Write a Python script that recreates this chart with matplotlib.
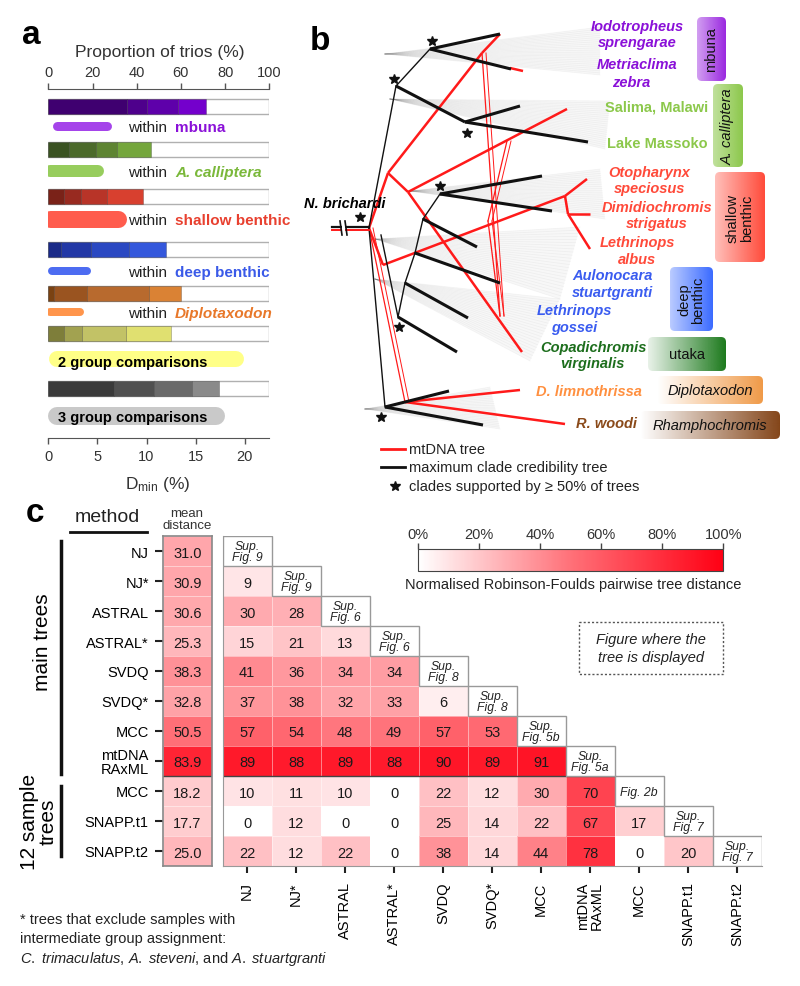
import numpy as np
import matplotlib
matplotlib.use("Agg")
import matplotlib.pyplot as plt
from matplotlib.colors import LinearSegmentedColormap, Normalize, to_rgb
from matplotlib.patches import Rectangle, FancyBboxPatch, Polygon
from matplotlib.cm import ScalarMappable

plt.rcParams["font.family"] = ["Liberation Sans", "DejaVu Sans"]
plt.rcParams["mathtext.fontset"] = "custom"
plt.rcParams["mathtext.rm"] = "Liberation Sans"
plt.rcParams["mathtext.it"] = "Liberation Sans:italic"
plt.rcParams["mathtext.bf"] = "Liberation Sans:bold"

W, H = 800, 987

# --- panel a data -----------------------------------------------------------
groups = ["mbuna", "A. calliptera", "shallow benthic", "deep benthic",
          "Diplotaxodon", "2 group comparisons", "3 group comparisons"]
# cumulative proportion of trios (%) at each shade boundary
trio_cum = [
    [35.5, 44.5, 58.8, 71.4],
    [9.5, 21.6, 31.2, 46.3],
    [7.2, 14.8, 26.7, 43.0],
    [5.6, 19.2, 36.7, 53.3],
    [2.6, 17.4, 45.6, 59.9],
    [7.1, 15.1, 35.0, 55.4],
    [29.9, 47.8, 64.9, 77.4],
]
# range of Dmin (%) covered by each cloud of trios
dmin_lo = [0.9, 0.2, 0.2, 0.4, 0.2, 0.9, 0.9]
dmin_hi = [6.0, 5.1, 7.1, 3.9, 3.2, 19.1, 17.1]

seg_colors = [
    ["#3f0070", "#4e008c", "#5e00aa", "#7400cc"],
    ["#3a5222", "#4c6a2a", "#5e8432", "#74a63c"],
    ["#7a2218", "#982a20", "#b83428", "#d8402f"],
    ["#1a2a88", "#2238a6", "#2a48c2", "#3458dc"],
    ["#7a4212", "#9a5420", "#b86a2e", "#da8234"],
    ["#7e7e3a", "#a2a250", "#c2c266", "#e0e070"],
    ["#3a3a3a", "#505050", "#6a6a6a", "#8a8a8a"],
]
cloud_colors = ["#9b30e8", "#8cc84b", "#ff4a3a", "#3a5cf0", "#ff8a38", "#ffff7a", "#c4c4c4"]
name_colors = ["#8a10d8", "#7ab83a", "#e8402f", "#3a5ae8", "#e8782a"]

# --- panel c data -----------------------------------------------------------
methods = ["NJ", "NJ*", "ASTRAL", "ASTRAL*", "SVDQ", "SVDQ*", "MCC",
           "mtDNA\nRAxML", "MCC", "SNAPP.t1", "SNAPP.t2"]
mean_dist = [31.0, 30.9, 30.6, 25.3, 38.3, 32.8, 50.5, 83.9, 18.2, 17.7, 25.0]
rf_lower = [
    [],
    [9],
    [30, 28],
    [15, 21, 13],
    [41, 36, 34, 34],
    [37, 38, 32, 33, 6],
    [57, 54, 48, 49, 57, 53],
    [89, 88, 89, 88, 90, 89, 91],
    [10, 11, 10, 0, 22, 12, 30, 70],
    [0, 12, 0, 0, 25, 14, 22, 67, 17],
    [22, 12, 22, 0, 38, 14, 44, 78, 0, 20],
]
shown_in = ["Sup.\nFig. 9", "Sup.\nFig. 9", "Sup.\nFig. 6", "Sup.\nFig. 6",
            "Sup.\nFig. 8", "Sup.\nFig. 8", "Sup.\nFig. 5b", "Sup.\nFig. 5a",
            "Fig. 2b", "Sup.\nFig. 7", "Sup.\nFig. 7"]

# --- panel b tree (node positions, in pixels) -----------------------------
mcc_nodes = {
    "root": (369, 229), "top": (396, 87), "mb": (430, 50), "iodo": (500, 35),
    "metri": (511, 70), "cal": (465, 123), "sal": (520, 107), "mas": (588, 143),
    "sh": (440, 195), "oto": (542, 177), "dimi": (552, 212), "s2": (423, 220),
    "lalb": (477, 248), "d1": (415, 254), "aulo": (500, 284), "d2": (405, 284),
    "goss": (468, 319), "d3": (398, 318), "copa": (457, 353), "bot": (385, 408),
    "dlim": (449, 392), "wood": (483, 426), "up": (381, 236),
}
mcc_thin = [("root", "top"), ("top", "mb"), ("root", "bot"), ("up", "d3"),
            ("d3", "d2"), ("d2", "d1"), ("d1", "s2"), ("s2", "sh")]
mcc_thick = [("mb", "iodo"), ("mb", "metri"), ("top", "cal"), ("cal", "sal"),
             ("cal", "mas"), ("sh", "oto"), ("sh", "dimi"), ("s2", "lalb"),
             ("d1", "aulo"), ("d2", "goss"), ("d3", "copa"), ("bot", "dlim"),
             ("bot", "wood")]
stars = [(432, 42), (394, 80), (467, 134), (440, 187), (360, 218), (399, 328), (381, 418)]

mt_nodes = {
    "root": (369, 229), "a": (388, 174), "b": (482, 54), "iodo": (500, 35),
    "mb": (510, 69), "metri": (523, 72), "c": (408, 193), "sal": (567, 110),
    "copa": (522, 353), "d": (383, 266), "e": (565, 197), "oto": (587, 180),
    "f": (568, 215), "dimi": (590, 215), "lalb": (590, 250), "g": (405, 403),
    "dlim": (520, 391), "wood": (565, 425), "bv": (500, 317), "m1": (507, 142),
    "m2": (488, 222), "m3": (500, 317),
}
mt_thick = [("root", "a"), ("a", "b"), ("b", "iodo"), ("mb", "metri"), ("a", "c"),
            ("c", "sal"), ("c", "copa"), ("root", "d"), ("d", "e"), ("e", "oto"),
            ("e", "f"), ("f", "dimi"), ("f", "lalb"), ("g", "dlim"), ("g", "wood")]
mt_thin = [("root", "g"), ("b", "bv"), ("m1", "m2"), ("m2", "m3")]

# densitree fans: apex, upper tip, lower tip
fans = [
    [(385, 55), (600, 28), (600, 76)],
    [(390, 100), (610, 102), (605, 150)],
    [(410, 192), (600, 170), (605, 220)],
    [(375, 240), (580, 228), (560, 300)],
    [(375, 280), (560, 300), (530, 362)],
    [(365, 410), (490, 388), (500, 430)],
]

tips = [
    ("Iodotropheus", 637, 27, "#8a10d8", "italic"),
    ("sprengarae", 637, 43, "#8a10d8", "italic"),
    ("Metriaclima", 637, 65, "#8a10d8", "italic"),
    ("zebra", 631, 83, "#8a10d8", "italic"),
    ("Salima, Malawi", 657, 108, "#8cc84b", "normal"),
    ("Lake Massoko", 657, 144, "#8cc84b", "normal"),
    ("Otopharynx", 649, 173, "#ff4a3a", "italic"),
    ("speciosus", 650, 189, "#ff4a3a", "italic"),
    ("Dimidiochromis", 657, 208, "#ff4a3a", "italic"),
    ("strigatus", 657, 224, "#ff4a3a", "italic"),
    ("Lethrinops", 637, 243, "#ff4a3a", "italic"),
    ("albus", 637, 260, "#ff4a3a", "italic"),
    ("Aulonocara", 612, 276, "#3a5cf0", "italic"),
    ("stuartgranti", 612, 293, "#3a5cf0", "italic"),
    ("Lethrinops", 574, 311, "#3a5cf0", "italic"),
    ("gossei", 574, 328, "#3a5cf0", "italic"),
    ("Copadichromis", 593, 348, "#1d6e1d", "italic"),
    ("virginalis", 592, 364, "#1d6e1d", "italic"),
    ("D. limnothrissa", 589, 392, "#ff9040", "italic"),
    ("R. woodi", 607, 424, "#8a4a1a", "italic"),
]

clade_boxes = [
    ("mbuna", 697, 18, 726, 82, "#9a28e0", 0.45, "normal"),
    ("A. calliptera", 713, 85, 743, 168, "#8cc84b", 0.55, "italic"),
    ("shallow\nbenthic", 715, 173, 765, 263, "#ff4a3a", 0.35, "normal"),
    ("deep\nbenthic", 670, 268, 713, 332, "#3a6aff", 0.35, "normal"),
    ("utaka", 648, 338, 726, 372, "#1d7a1d", 0.1, "normal"),
    ("Diplotaxodon", 657, 377, 763, 405, "#f09a48", 0.0, "italic"),
    ("Rhamphochromis", 640, 412, 780, 440, "#84461a", 0.0, "italic"),
]

cmap = LinearSegmentedColormap.from_list("rf", ["#ffffff", "#ff7078", "#ff0014"])
norm = Normalize(0, 100)

fig = plt.figure(figsize=(W / 100, H / 100), dpi=100)


def px_axes(x0, y0, x1, y1):
    return fig.add_axes([x0 / W, 1 - y1 / H, (x1 - x0) / W, (y1 - y0) / H])


# ===================== panel a =====================
bar_y = [107, 150, 197.5, 250.5, 294, 334, 389]
cloud_y = [127, 172, 220, 272, 313, 360, 417]
cloud_h = [9, 12, 17, 8, 8, 16, 18]

ax_a = px_axes(48.3, 90, 269.3, 439)
ax_d = ax_a.twiny()   # twiny moves the ticks of ax_a to the bottom, so set them after

ax_a.set_xlim(0, 100)
ax_a.set_ylim(439, 90)
for i in range(len(groups)):
    ax_a.barh(bar_y[i], 100, height=15, left=0, color="white", edgecolor="#b0b0b0", lw=1)
    left = 0
    for c, top in zip(seg_colors[i], trio_cum[i]):
        ax_a.barh(bar_y[i], top - left, height=15, left=left, color=c,
                  edgecolor="#00000040", lw=0.6)
        left = top
ax_a.xaxis.set_ticks_position("top")
ax_a.set_xticks([0, 20, 40, 60, 80, 100])
ax_a.tick_params(axis="x", length=4, width=1, color="#555", labelsize=10.5, pad=3,
                 labelcolor="#333", labeltop=True, labelbottom=False)
ax_a.set_yticks([])
for s in ["left", "right", "bottom"]:
    ax_a.spines[s].set_visible(False)
ax_a.spines["top"].set_color("#555")

ax_d.set_xlim(0, 22.5)
ax_d.xaxis.set_ticks_position("bottom")
ax_d.set_xticks([0, 5, 10, 15, 20])
ax_d.tick_params(axis="x", length=4, width=1, color="#555", labelsize=10.5, pad=4,
                 labelcolor="#333", labelbottom=True, labeltop=False)
for s in ["left", "right", "top"]:
    ax_d.spines[s].set_visible(False)
ax_d.spines["bottom"].set_visible(True)
ax_d.spines["bottom"].set_color("#555")
for i in range(len(groups)):
    ax_d.plot([dmin_lo[i], dmin_hi[i]], [cloud_y[i], cloud_y[i]], color=cloud_colors[i],
              lw=cloud_h[i] * 0.72, solid_capstyle="round", alpha=0.9)
ax_d.text(0.95, 363, "2 group comparisons", fontsize=10.5, fontweight="bold", va="center")
ax_d.text(0.95, 418, "3 group comparisons", fontsize=10.5, fontweight="bold", va="center")

# ===================== panel c =====================
n = len(methods)
M = np.full((n, n), np.nan)
for i, row in enumerate(rf_lower):
    for j, v in enumerate(row):
        M[i, j] = v

ax_h = px_axes(222.7, 537, 761.7, 867)
ax_h.pcolormesh(np.arange(n + 1), np.arange(n + 1), np.ma.masked_invalid(M), cmap=cmap,
                norm=norm, edgecolors=(1, 1, 1, 0.45), linewidth=0.6)
for i, row in enumerate(rf_lower):
    for j, v in enumerate(row):
        ax_h.text(j + 0.5, i + 0.55, f"{v}", ha="center", va="center", fontsize=10.5,
                  color="#1a1a1a")
for i in range(n):
    ax_h.add_patch(Rectangle((i, i), 1, 1, facecolor="white", edgecolor="#999", lw=1,
                             zorder=3))
    ax_h.text(i + 0.5, i + 0.52, shown_in[i], ha="center", va="center", fontsize=8.8,
              style="italic", linespacing=0.95, zorder=4, color="#222")
ax_h.plot([0, 8], [8, 8], color="#444", lw=1, zorder=2)
ax_h.set_xlim(0, n)
ax_h.set_ylim(n, 0)
ax_h.set_xticks(np.arange(n) + 0.5)
ax_h.set_xticklabels(methods, rotation=90, fontsize=10.5, linespacing=0.95)
ax_h.set_yticks([])
ax_h.tick_params(axis="x", length=5, width=1.5, color="#222", pad=6)
for s in ["top", "right"]:
    ax_h.spines[s].set_visible(False)
for s in ["left", "bottom"]:
    ax_h.spines[s].set_color("#999")

ax_m = px_axes(162.7, 537, 212, 867)
ax_m.pcolormesh([0, 1], np.arange(n + 1), np.array(mean_dist)[:, None], cmap=cmap,
                norm=norm, edgecolors=(1, 1, 1, 0.45), linewidth=0.6)
for i, v in enumerate(mean_dist):
    ax_m.text(0.5, i + 0.55, f"{v:.1f}", ha="center", va="center", fontsize=10.5,
              color="#1a1a1a")
ax_m.axhline(8, color="#444", lw=1)
ax_m.set_xlim(0, 1)
ax_m.set_ylim(n, 0)
ax_m.set_xticks([])
ax_m.set_yticks(np.arange(n) + 0.5)
ax_m.set_yticklabels(methods, fontsize=10.5, linespacing=0.95)
ax_m.tick_params(axis="y", length=6, width=1.5, color="#222", pad=4)
for s in ax_m.spines.values():
    s.set_color("#888")
    s.set_linewidth(1.2)

ax_cb = px_axes(418.3, 550, 723.3, 571.7)
cb = fig.colorbar(ScalarMappable(norm=norm, cmap=cmap), cax=ax_cb, orientation="horizontal")
cb.set_ticks([0, 20, 40, 60, 80, 100])
cb.set_ticklabels(["0%", "20%", "40%", "60%", "80%", "100%"])
ax_cb.xaxis.set_ticks_position("top")
ax_cb.tick_params(length=4, width=1, color="#444", labelsize=10.5, pad=2, labelcolor="#333")
cb.outline.set_edgecolor("#444")

# ===================== overlay (tree, labels, annotations) =====================
ax_o = fig.add_axes([0, 0, 1, 1])
ax_o.axis("off")

# panel letters
for letter, x, y in [("a", 22, 36), ("b", 310, 42), ("c", 26, 513)]:
    ax_o.text(x, y, letter, fontsize=24, fontweight="bold", va="center", ha="left")

# panel a texts
ax_o.text(160, 52, "Proportion of trios (%)", fontsize=12.5, ha="center", va="center",
          color="#333")
ax_o.text(158, 485, r"D$_{\mathrm{min}}$ (%)", fontsize=12.5, ha="center", va="center",
          color="#333")
for i in range(5):
    ax_o.text(128, cloud_y[i] + 1, "within", fontsize=11, va="center", color="#222")
    st = "italic" if groups[i] in ("A. calliptera", "Diplotaxodon") else "normal"
    ax_o.text(175, cloud_y[i] + 1, groups[i], fontsize=11, va="center", fontweight="bold",
              style=st, color=name_colors[i])

# densitree shading: faint fans of sampled trees behind the two summary trees
for fan in fans:
    px, py = fan[0]
    ax_o.add_patch(Polygon(fan, closed=True, facecolor="#000000", alpha=0.03, lw=0))
    for f in np.linspace(0, 1, 24):
        tx = fan[1][0] + f * (fan[2][0] - fan[1][0])
        ty = fan[1][1] + f * (fan[2][1] - fan[1][1])
        ax_o.plot([px, tx], [py, ty], color="#000000", alpha=0.035, lw=0.6, zorder=1)

# mtDNA tree (red)
for a, b in mt_thick:
    (x0, y0), (x1, y1) = mt_nodes[a], mt_nodes[b]
    ax_o.plot([x0, x1], [y0, y1], color="#ff1a1a", lw=1.8, solid_capstyle="butt", zorder=3)
for a, b in mt_thin:
    (x0, y0), (x1, y1) = mt_nodes[a], mt_nodes[b]
    ax_o.plot([x0, x1], [y0, y1], color="#ff1a1a", lw=0.9, zorder=3)
    ax_o.plot([x0 + 4, x1 + 4], [y0, y1], color="#ff1a1a", lw=0.7, zorder=3)

# MCC tree (black)
for a, b in mcc_thin:
    (x0, y0), (x1, y1) = mcc_nodes[a], mcc_nodes[b]
    ax_o.plot([x0, x1], [y0, y1], color="#111", lw=1.0, zorder=4)
for a, b in mcc_thick:
    (x0, y0), (x1, y1) = mcc_nodes[a], mcc_nodes[b]
    ax_o.plot([x0, x1], [y0, y1], color="#111", lw=2.2, solid_capstyle="butt", zorder=4)
ax_o.plot([332, 369], [228, 228], color="#111", lw=1.6, zorder=4)
ax_o.plot([332, 369], [231, 231], color="#ff1a1a", lw=1.4, zorder=4)
for bx in (341, 346):
    ax_o.plot([bx - 1, bx + 1], [222, 236], color="#111", lw=1.2, zorder=5)
ax_o.add_patch(Rectangle((342, 224), 3, 10, facecolor="white", lw=0, zorder=4.5))
sx, sy = zip(*stars)
ax_o.plot(sx, sy, ls="none", marker="*", ms=7, color="#111", zorder=6)
ax_o.text(345, 204, "N. brichardi", fontsize=10.5, fontweight="bold", style="italic",
          ha="center", va="center", zorder=6)

for txt, x, y, c, st in tips:
    ax_o.text(x, y, txt, fontsize=10.5, fontweight="bold", style=st, color=c,
              ha="center", va="center", zorder=6)

for txt, x0, y0, x1, y1, c, a0, st in clade_boxes:
    img = np.zeros((2, 128, 4))
    img[..., :3] = to_rgb(c)
    img[..., 3] = np.linspace(a0, 1, 128)
    im = ax_o.imshow(img, extent=(x0, x1, y1, y0), aspect="auto", interpolation="bilinear",
                     zorder=2)
    clip = FancyBboxPatch((x0, y0), x1 - x0, y1 - y0,
                          boxstyle="round,pad=0,rounding_size=5",
                          facecolor="none", edgecolor="none", transform=ax_o.transData)
    ax_o.add_patch(clip)
    im.set_clip_path(clip)
    rot = 90 if (y1 - y0) > (x1 - x0) else 0
    ax_o.text((x0 + x1) / 2, (y0 + y1) / 2, txt, rotation=rot, fontsize=10.5, style=st,
              ha="center", va="center", color="#111", linespacing=1.0, zorder=6)

# legend of panel b
ax_o.plot([381, 405], [450, 450], color="#ff1a1a", lw=2)
ax_o.plot([381, 405], [468, 468], color="#111", lw=2)
ax_o.plot([395], [487], marker="*", ms=7, color="#111")
for y, t in [(450, "mtDNA tree"), (468, "maximum clade credibility tree"),
             (487, "clades supported by \u2265 50% of trees")]:
    ax_o.text(409, y, t, fontsize=10.5, va="center", color="#222")

# panel c annotations
ax_o.text(107, 518, "method", fontsize=14, ha="center", va="center", color="#222")
ax_o.plot([70, 147], [533, 533], color="#111", lw=2)
ax_o.text(187, 520, "mean\ndistance", fontsize=9.5, ha="center", va="center",
          linespacing=1.0, color="#333")
ax_o.plot([61, 61], [542, 775], color="#111", lw=2.5)
ax_o.plot([61, 61], [787, 857], color="#111", lw=2.5)
ax_o.text(42, 642, "main trees", rotation=90, fontsize=15, ha="center", va="center")
ax_o.text(39, 822, "12 sample\ntrees", rotation=90, fontsize=15, ha="center", va="center",
          linespacing=0.95)
ax_o.text(573, 585, "Normalised Robinson-Foulds pairwise tree distance", fontsize=10.5,
          ha="center", va="center", color="#222")
ax_o.add_patch(Rectangle((579, 623), 144, 52, facecolor="none", edgecolor="#555",
                         ls=(0, (1.5, 1.5)), lw=1))
ax_o.text(651, 649, "Figure where the\ntree is displayed", fontsize=10.5, style="italic",
          ha="center", va="center", linespacing=1.3, color="#222")
ax_o.text(20, 920, "* trees that exclude samples with", fontsize=10.5, va="center",
          color="#222")
ax_o.text(20, 939, "intermediate group assignment:", fontsize=10.5, va="center",
          color="#222")
ax_o.text(20, 959, r"$\mathit{C.\ trimaculatus}$, $\mathit{A.\ steveni}$, and "
          r"$\mathit{A.\ stuartgranti}$", fontsize=10.5, va="center", color="#222")

ax_o.set_xlim(0, W)
ax_o.set_ylim(H, 0)

fig.savefig("out.png", dpi=100)
